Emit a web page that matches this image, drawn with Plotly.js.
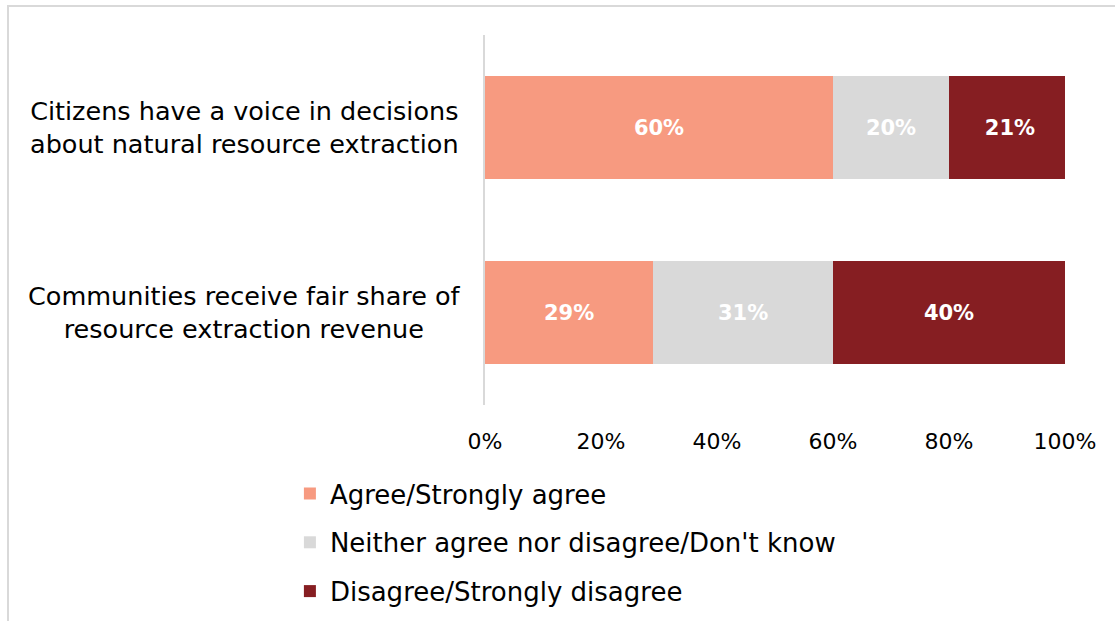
<!DOCTYPE html>
<html>
<head>
<meta charset="utf-8">
<script src="https://cdn.plot.ly/plotly-3.0.1.min.js"></script>
<style>
  html, body { margin: 0; padding: 0; background: #ffffff; }
  #frame { position: absolute; left: 7px; top: 5px; width: 1115px; height: 630px;
           border-left: 2px solid #d9d9d9; border-top: 2px solid #d9d9d9; box-sizing: border-box; }
  #chart { position: absolute; left: 0; top: 0; width: 1115px; height: 621px; }
</style>
</head>
<body>
<div id="frame"></div>
<div id="chart"></div>
<script>
const categories = [
  "Citizens have a voice in decisions<br>about natural resource extraction",
  "Communities receive fair share of<br>resource extraction revenue"
];
const seriesNames = ["Agree/Strongly agree", "Neither agree nor disagree/Don't know", "Disagree/Strongly disagree"];
const agree = [60, 29];
const neutral = [20, 31];
const disagree = [21, 40];
const tickValues = [0, 20, 40, 60, 80, 100];
const tickLabels = ["0%", "20%", "40%", "60%", "80%", "100%"];

const colors = ["#F79A80", "#D9D9D9", "#861E22"];
const FONT = "DejaVu Sans, sans-serif";
const seriesValues = [agree, neutral, disagree];

const traces = seriesValues.map((vals, i) => ({
  type: "bar",
  orientation: "h",
  name: seriesNames[i],
  legendgroup: "g" + i,
  y: categories,
  x: vals,
  text: vals.map(v => v + "%"),
  textposition: "inside",
  insidetextanchor: "middle",
  textfont: { family: FONT, size: 21, color: "#ffffff", weight: "bold" },
  constraintext: "none",
  marker: { color: colors[i], line: { width: 0 } },
  hoverinfo: "skip",
  cliponaxis: true
}));

const annotations = categories.map(c => ({
  xref: "paper", yref: "y",
  x: -0.414, y: c,
  xanchor: "center", yanchor: "middle",
  text: c, showarrow: false, align: "center",
  font: { family: FONT, size: 25.5, color: "#000000" }
}));

const layout = {
  width: 1115, height: 621,
  margin: { l: 485, r: 50, t: 35, b: 216, pad: 0, autoexpand: false },
  paper_bgcolor: "rgba(0,0,0,0)",
  plot_bgcolor: "rgba(0,0,0,0)",
  barmode: "stack",
  bargap: 0.443,
  showlegend: true,
  legend: {
    orientation: "v",
    xref: "container", yref: "container",
    x: 0.26, y: 0.243, xanchor: "left", yanchor: "top",
    font: { family: FONT, size: 26, color: "#000000" },
    traceorder: "grouped",
    tracegroupgap: 12,
    itemclick: false
  },
  xaxis: {
    range: [0, 100],
    tickvals: tickValues,
    ticktext: tickLabels,
    showgrid: false, zeroline: false, showline: false,
    ticks: "", ticklabelstandoff: 21,
    tickfont: { family: FONT, size: 22, color: "#000000" },
    fixedrange: true
  },
  yaxis: {
    type: "category",
    categoryorder: "array", categoryarray: categories,
    autorange: "reversed",
    showticklabels: false,
    showgrid: false, zeroline: false,
    showline: true, linecolor: "#d9d9d9", linewidth: 2,
    ticks: "", fixedrange: true
  },
  annotations: annotations
};

Plotly.newPlot("chart", traces, layout, { displayModeBar: false, staticPlot: true });
</script>
</body>
</html>
